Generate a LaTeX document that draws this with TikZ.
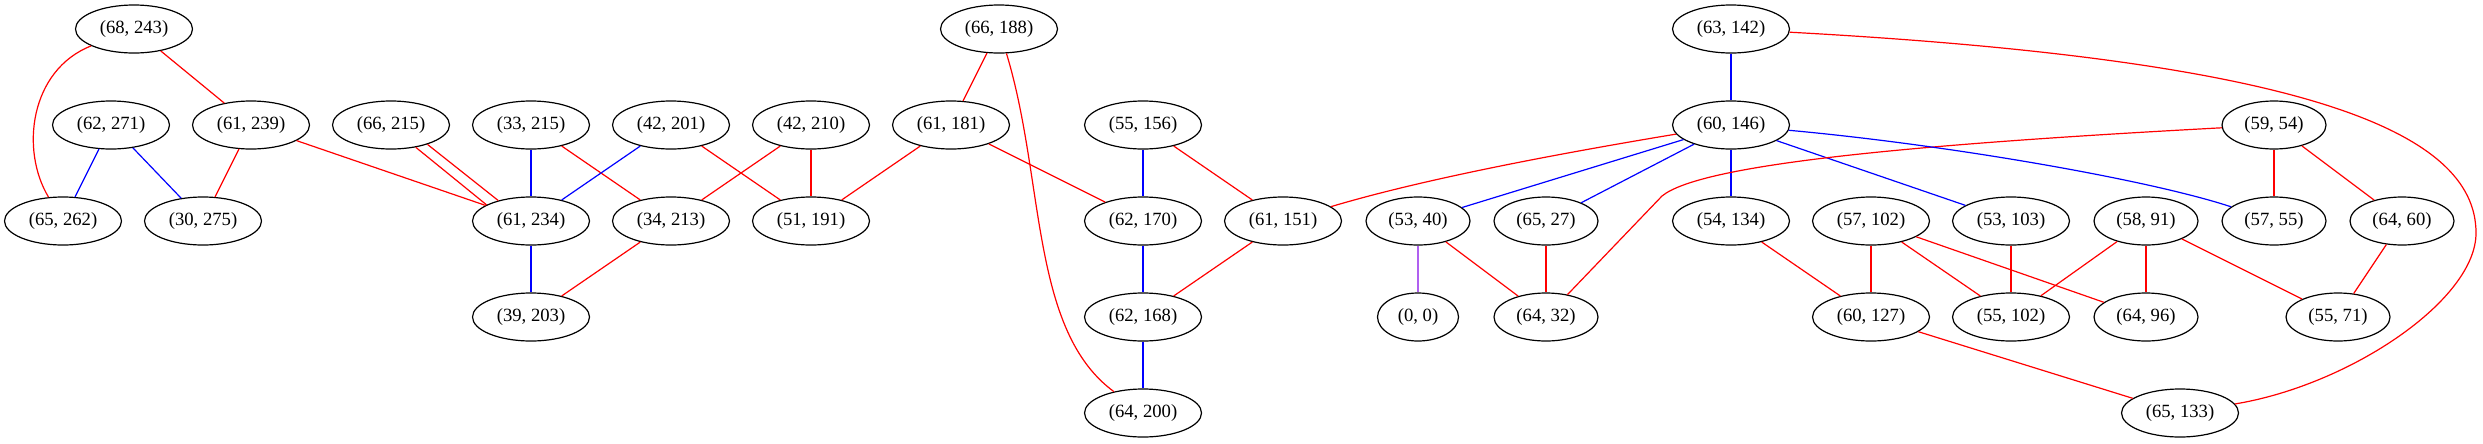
\documentclass[tikz,border=0pt]{standalone}
\usepackage{fontspec}
\setmainfont{Liberation Serif}
\usetikzlibrary{shapes.geometric}
\definecolor{lilac}{RGB}{176,96,240}
\begin{document}
\begin{tikzpicture}[x=0.75pt,y=-0.75pt,
  base/.style={ellipse,draw=black,line width=0.9pt,inner sep=0pt,minimum height=36pt,font=\fontsize{14pt}{16pt}\selectfont},
  nw/.style={base,minimum width=87.75pt},
  nm/.style={base,minimum width=78pt},
  ns/.style={base,minimum width=60.75pt},
  re/.style={draw=red,line width=0.9pt},
  bl/.style={draw=blue,line width=0.9pt},
  pu/.style={draw=lilac,line width=0.9pt}]
\useasboundingbox (0,0) rectangle (2483,443);
% row 1
\node[nw] (A68243) at (134,29) {(68, 243)};
\node[nw] (A66188) at (999,29) {(66, 188)};
\node[nw] (A63142) at (1731,29) {(63, 142)};
% row 2
\node[nw] (A62271) at (111,125) {(62, 271)};
\node[nw] (A61239) at (251,125) {(61, 239)};
\node[nw] (A66215) at (391,125) {(66, 215)};
\node[nw] (A33215) at (531,125) {(33, 215)};
\node[nw] (A42201) at (671,125) {(42, 201)};
\node[nw] (A42210) at (811,125) {(42, 210)};
\node[nw] (A61181) at (951,125) {(61, 181)};
\node[nw] (A55156) at (1143,125) {(55, 156)};
\node[nw] (A60146) at (1731,125) {(60, 146)};
\node[nm] (A5954) at (2274,125) {(59, 54)};
% row 3
\node[nw] (A65262) at (63,221) {(65, 262)};
\node[nw] (A30275) at (203,221) {(30, 275)};
\node[nw] (A61234) at (531,221) {(61, 234)};
\node[nw] (A34213) at (671,221) {(34, 213)};
\node[nw] (A51191) at (811,221) {(51, 191)};
\node[nw] (A62170) at (1143,221) {(62, 170)};
\node[nw] (A61151) at (1283,221) {(61, 151)};
\node[nm] (A5340) at (1418,221) {(53, 40)};
\node[nm] (A6527) at (1546,221) {(65, 27)};
\node[nw] (A54134) at (1731,221) {(54, 134)};
\node[nw] (A57102) at (1871,221) {(57, 102)};
\node[nw] (A53103) at (2011,221) {(53, 103)};
\node[nm] (A5891) at (2146,221) {(58, 91)};
\node[nm] (A5755) at (2274,221) {(57, 55)};
\node[nm] (A6460) at (2402,221) {(64, 60)};
% row 4
\node[nw] (A39203) at (531,317) {(39, 203)};
\node[nw] (A62168) at (1143,317) {(62, 168)};
\node[ns] (A00) at (1418,317) {(0, 0)};
\node[nm] (A6432) at (1546,317) {(64, 32)};
\node[nw] (A60127) at (1871,317) {(60, 127)};
\node[nw] (A55102) at (2011,317) {(55, 102)};
\node[nm] (A6496) at (2146,317) {(64, 96)};
\node[nm] (A5571) at (2338,317) {(55, 71)};
% row 5
\node[nw] (A64200) at (1143,413) {(64, 200)};
\node[nw] (A65133) at (2180,413) {(65, 133)};
% red straight edges
\path[re] (A68243) -- (A61239);
\path[re] (A61239) -- (A30275);
\path[re] (A61239) -- (A61234);
\path[re] (A66215.-42) -- (A61234.160);
\path[re] (A66215.-28) -- (A61234.148);
\path[re] (A33215) -- (A34213);
\path[re] (A42201) -- (A51191);
\path[re] (A42210) -- (A34213);
\path[re] (A42210) -- (A51191);
\path[re] (A61181) -- (A51191);
\path[re] (A61181) -- (A62170);
\path[re] (A66188) -- (A61181);
\path[re] (A55156) -- (A61151);
\path[re] (A61151) -- (A62168);
\path[re] (A34213) -- (A39203);
\path[re] (A5954) -- (A5755);
\path[re] (A5954) -- (A6460);
\path[re] (A6460) -- (A5571);
\path[re] (A5340) -- (A6432);
\path[re] (A6527) -- (A6432);
\path[re] (A54134) -- (A60127);
\path[re] (A57102) -- (A60127);
\path[re] (A57102) -- (A55102);
\path[re] (A57102) -- (A6496);
\path[re] (A53103) -- (A55102);
\path[re] (A5891) -- (A55102);
\path[re] (A5891) -- (A6496);
\path[re] (A5891) -- (A5571);
\path[re] (A60127) -- (A65133);
% blue straight edges
\path[bl] (A62271) -- (A65262);
\path[bl] (A62271) -- (A30275);
\path[bl] (A33215) -- (A61234);
\path[bl] (A42201) -- (A61234);
\path[bl] (A61234) -- (A39203);
\path[bl] (A55156) -- (A62170);
\path[bl] (A62170) -- (A62168);
\path[bl] (A62168) -- (A64200);
\path[bl] (A63142) -- (A60146);
\path[bl] (A60146) -- (A5340);
\path[bl] (A60146) -- (A6527);
\path[bl] (A60146) -- (A54134);
\path[bl] (A60146) -- (A53103);
% purple
\path[pu] (A5340) -- (A00);
% curves
\path[re] (A68243) .. controls (30,70) and (20,150) .. (A65262);
\path[re] (A66188) .. controls (1045,180) and (1030,330) .. (A64200);
\coordinate (k1) at (2476,233);
\path[re] (A63142) .. controls (2300,60) and (2476,130) .. (k1) .. controls (2476,300) and (2350,385) .. (A65133);
\coordinate (k2) at (1662,196);
\path[re] (A5954) .. controls (1900,145) and (1700,165) .. (k2) -- (A6432);
\path[bl] (A60146) .. controls (1950,145) and (2150,180) .. (A5755);
\path[re] (A60146) .. controls (1550,155) and (1420,180) .. (A61151);
\end{tikzpicture}
\end{document}
